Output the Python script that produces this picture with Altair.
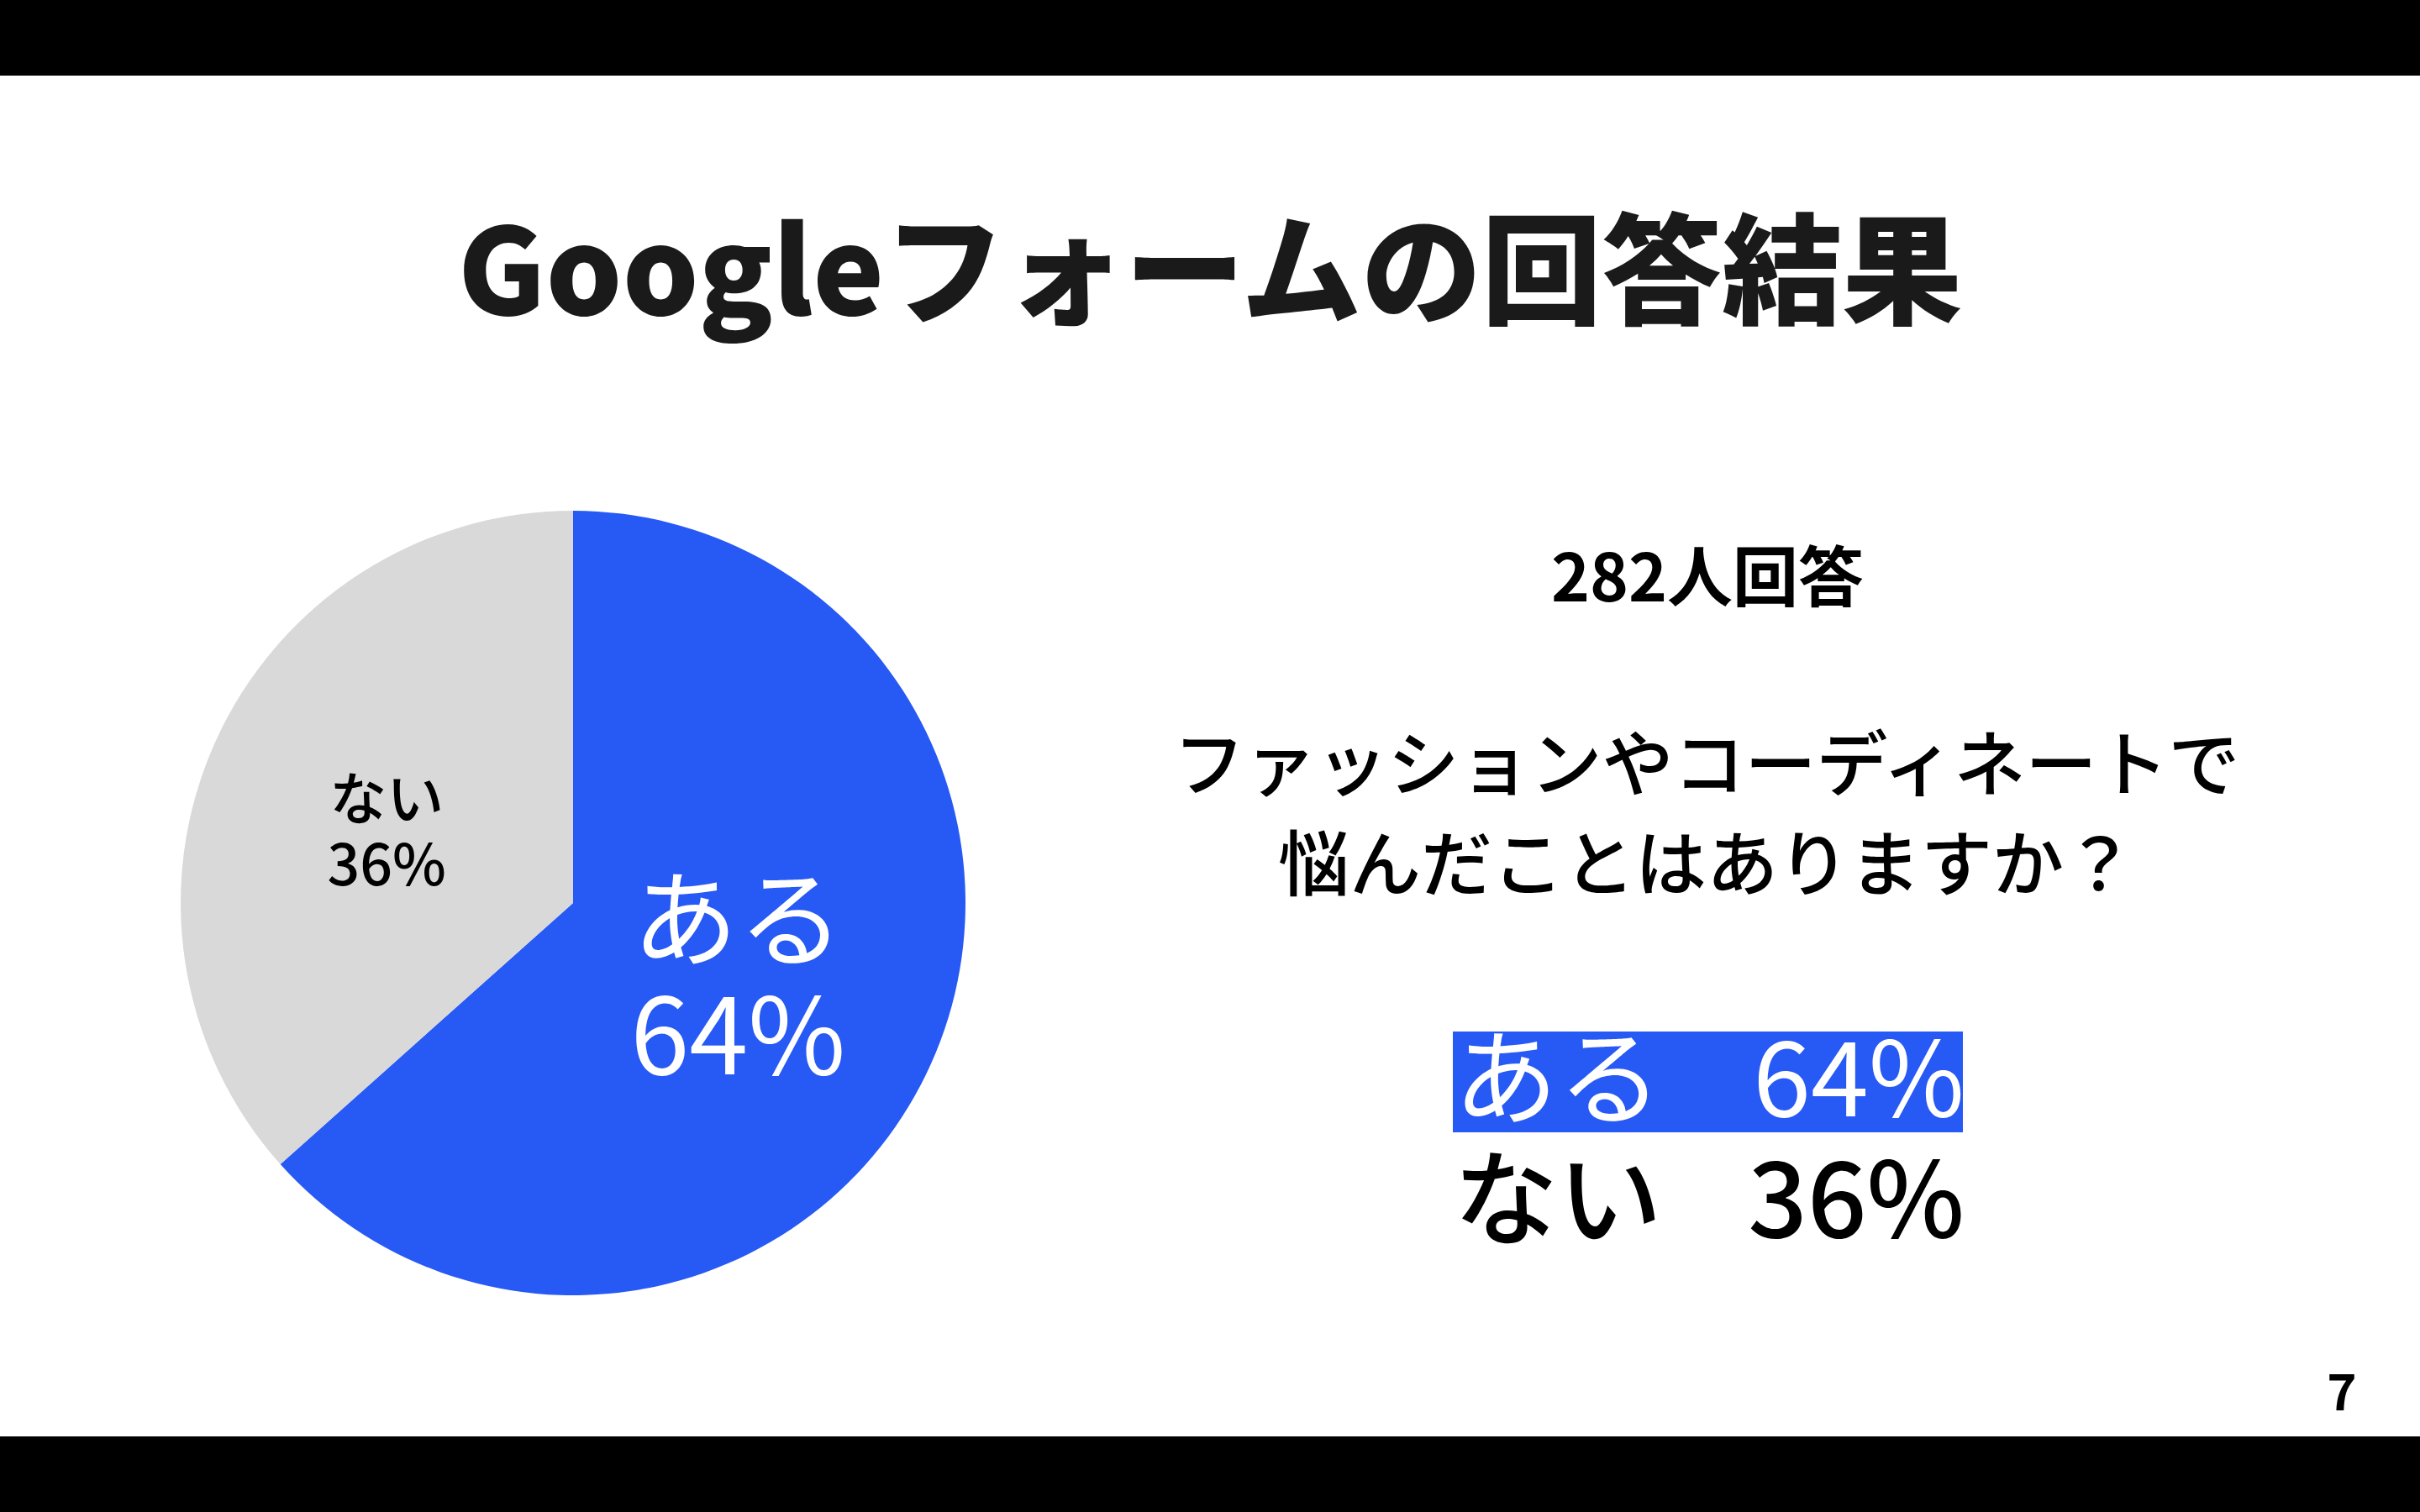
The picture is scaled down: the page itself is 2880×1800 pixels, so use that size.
import altair as alt
import pandas as pd

W, H = 2880, 1800
FONT = "Noto Sans CJK JP"

# ---- data ----
categories = ["ある", "ない"]
slice_values = [63.4, 36.6]      # slice sizes as drawn
label_pcts = [64, 36]            # percentages as labelled
colors = ["#2759F5", "#D9D9D9"]
title_text = "Googleフォームの回答結果"
respondents = 282
question_lines = ["ファッションやコーディネートで", "悩んだことはありますか？"]
page_number = "7"

df = pd.DataFrame({"category": categories, "value": slice_values, "order": [0, 1]})
df["pct"] = [f"{p}%" for p in label_pcts]
df["label"] = df["category"] + "\n" + df["pct"]
one = pd.DataFrame({"k": [0]})

CX, CY, R = 682, 1075, 467

base = alt.Chart(df)
theta = alt.Theta("value:Q", stack=True)
order = alt.Order("order:Q")

pie = base.mark_arc(radius=R).encode(
    theta=theta,
    order=order,
    color=alt.Color("category:N", scale=alt.Scale(domain=categories, range=colors), legend=None),
    x=alt.value(CX), y=alt.value(CY),
)

lab_yes = base.transform_calculate(
    t="datum.category == 'ある' ? datum.label : ''"
).mark_text(radius=215, fontSize=126, lineHeight=138, lineBreak="\n", font=FONT, dy=-60,
            fontWeight=400, color="white", align="center", baseline="middle").encode(
    theta=theta, order=order, detail="category:N", text="t:N",
    x=alt.value(CX), y=alt.value(CY),
)

lab_no = base.transform_calculate(
    t="datum.category == 'ない' ? datum.label : ''"
).mark_text(radius=243, fontSize=68, lineHeight=78, lineBreak="\n", font=FONT, dy=-20,
            fontWeight=500, color="black", align="center", baseline="middle").encode(
    theta=theta, order=order, detail="category:N", text="t:N",
    x=alt.value(CX), y=alt.value(CY),
)

bars = alt.layer(
    alt.Chart(one).mark_rect(color="black").encode(
        x=alt.value(0), x2=alt.value(W), y=alt.value(0), y2=alt.value(90)),
    alt.Chart(one).mark_rect(color="black").encode(
        x=alt.value(0), x2=alt.value(W), y=alt.value(1710), y2=alt.value(H)),
)

title = alt.Chart(one).transform_calculate(t=f"'{title_text}'").mark_text(
    font=FONT, fontSize=143, fontWeight=900, color="#1a1a1a", align="center", baseline="middle"
).encode(text="t:N", x=alt.value(1440), y=alt.value(332))

resp = alt.Chart(one).transform_calculate(t=f"'{respondents}人回答'").mark_text(
    font=FONT, fontSize=78, fontWeight=700, color="black", align="center", baseline="middle"
).encode(text="t:N", x=alt.value(2032), y=alt.value(693))

q = alt.Chart(one).transform_calculate(t="'" + "\\n".join(question_lines) + "'").mark_text(
    font=FONT, fontSize=85, fontWeight=500, color="black", align="center", baseline="middle",
    lineBreak="\n", lineHeight=119
).encode(text="t:N", x=alt.value(2031), y=alt.value(915))

box = alt.Chart(one).mark_rect(color=colors[0]).encode(
    x=alt.value(1729), x2=alt.value(2336), y=alt.value(1228), y2=alt.value(1348))

row_y = {"ある": 1292, "ない": 1436}
row_col = {"ある": "white", "ない": "black"}
row_w = {"ある": 400, "ない": 500}
rows = []
for c in categories:
    rb = base.transform_filter(alt.datum.category == c)
    rows.append(rb.mark_text(font=FONT, fontSize=124, fontWeight=row_w[c], color=row_col[c],
                             align="left", baseline="middle").encode(
        text="category:N", x=alt.value(1730), y=alt.value(row_y[c])))
    rows.append(rb.mark_text(font=FONT, fontSize=124, fontWeight=row_w[c], color=row_col[c],
                             align="right", baseline="middle").encode(
        text="pct:N", x=alt.value(2338), y=alt.value(row_y[c])))

page = alt.Chart(one).transform_calculate(t=f"'{page_number}'").mark_text(
    font=FONT, fontSize=60, fontWeight=700, color="black", align="center", baseline="middle"
).encode(text="t:N", x=alt.value(2787), y=alt.value(1661))

chart = alt.layer(bars, pie, lab_yes, lab_no, title, resp, q, box, *rows, page).properties(
    width=W, height=H, padding=0, background="white",
    autosize=alt.AutoSizeParams(type="none"),
).configure_view(stroke=None)

chart.save("out.html", embed_options={"renderer": "svg", "actions": False})
